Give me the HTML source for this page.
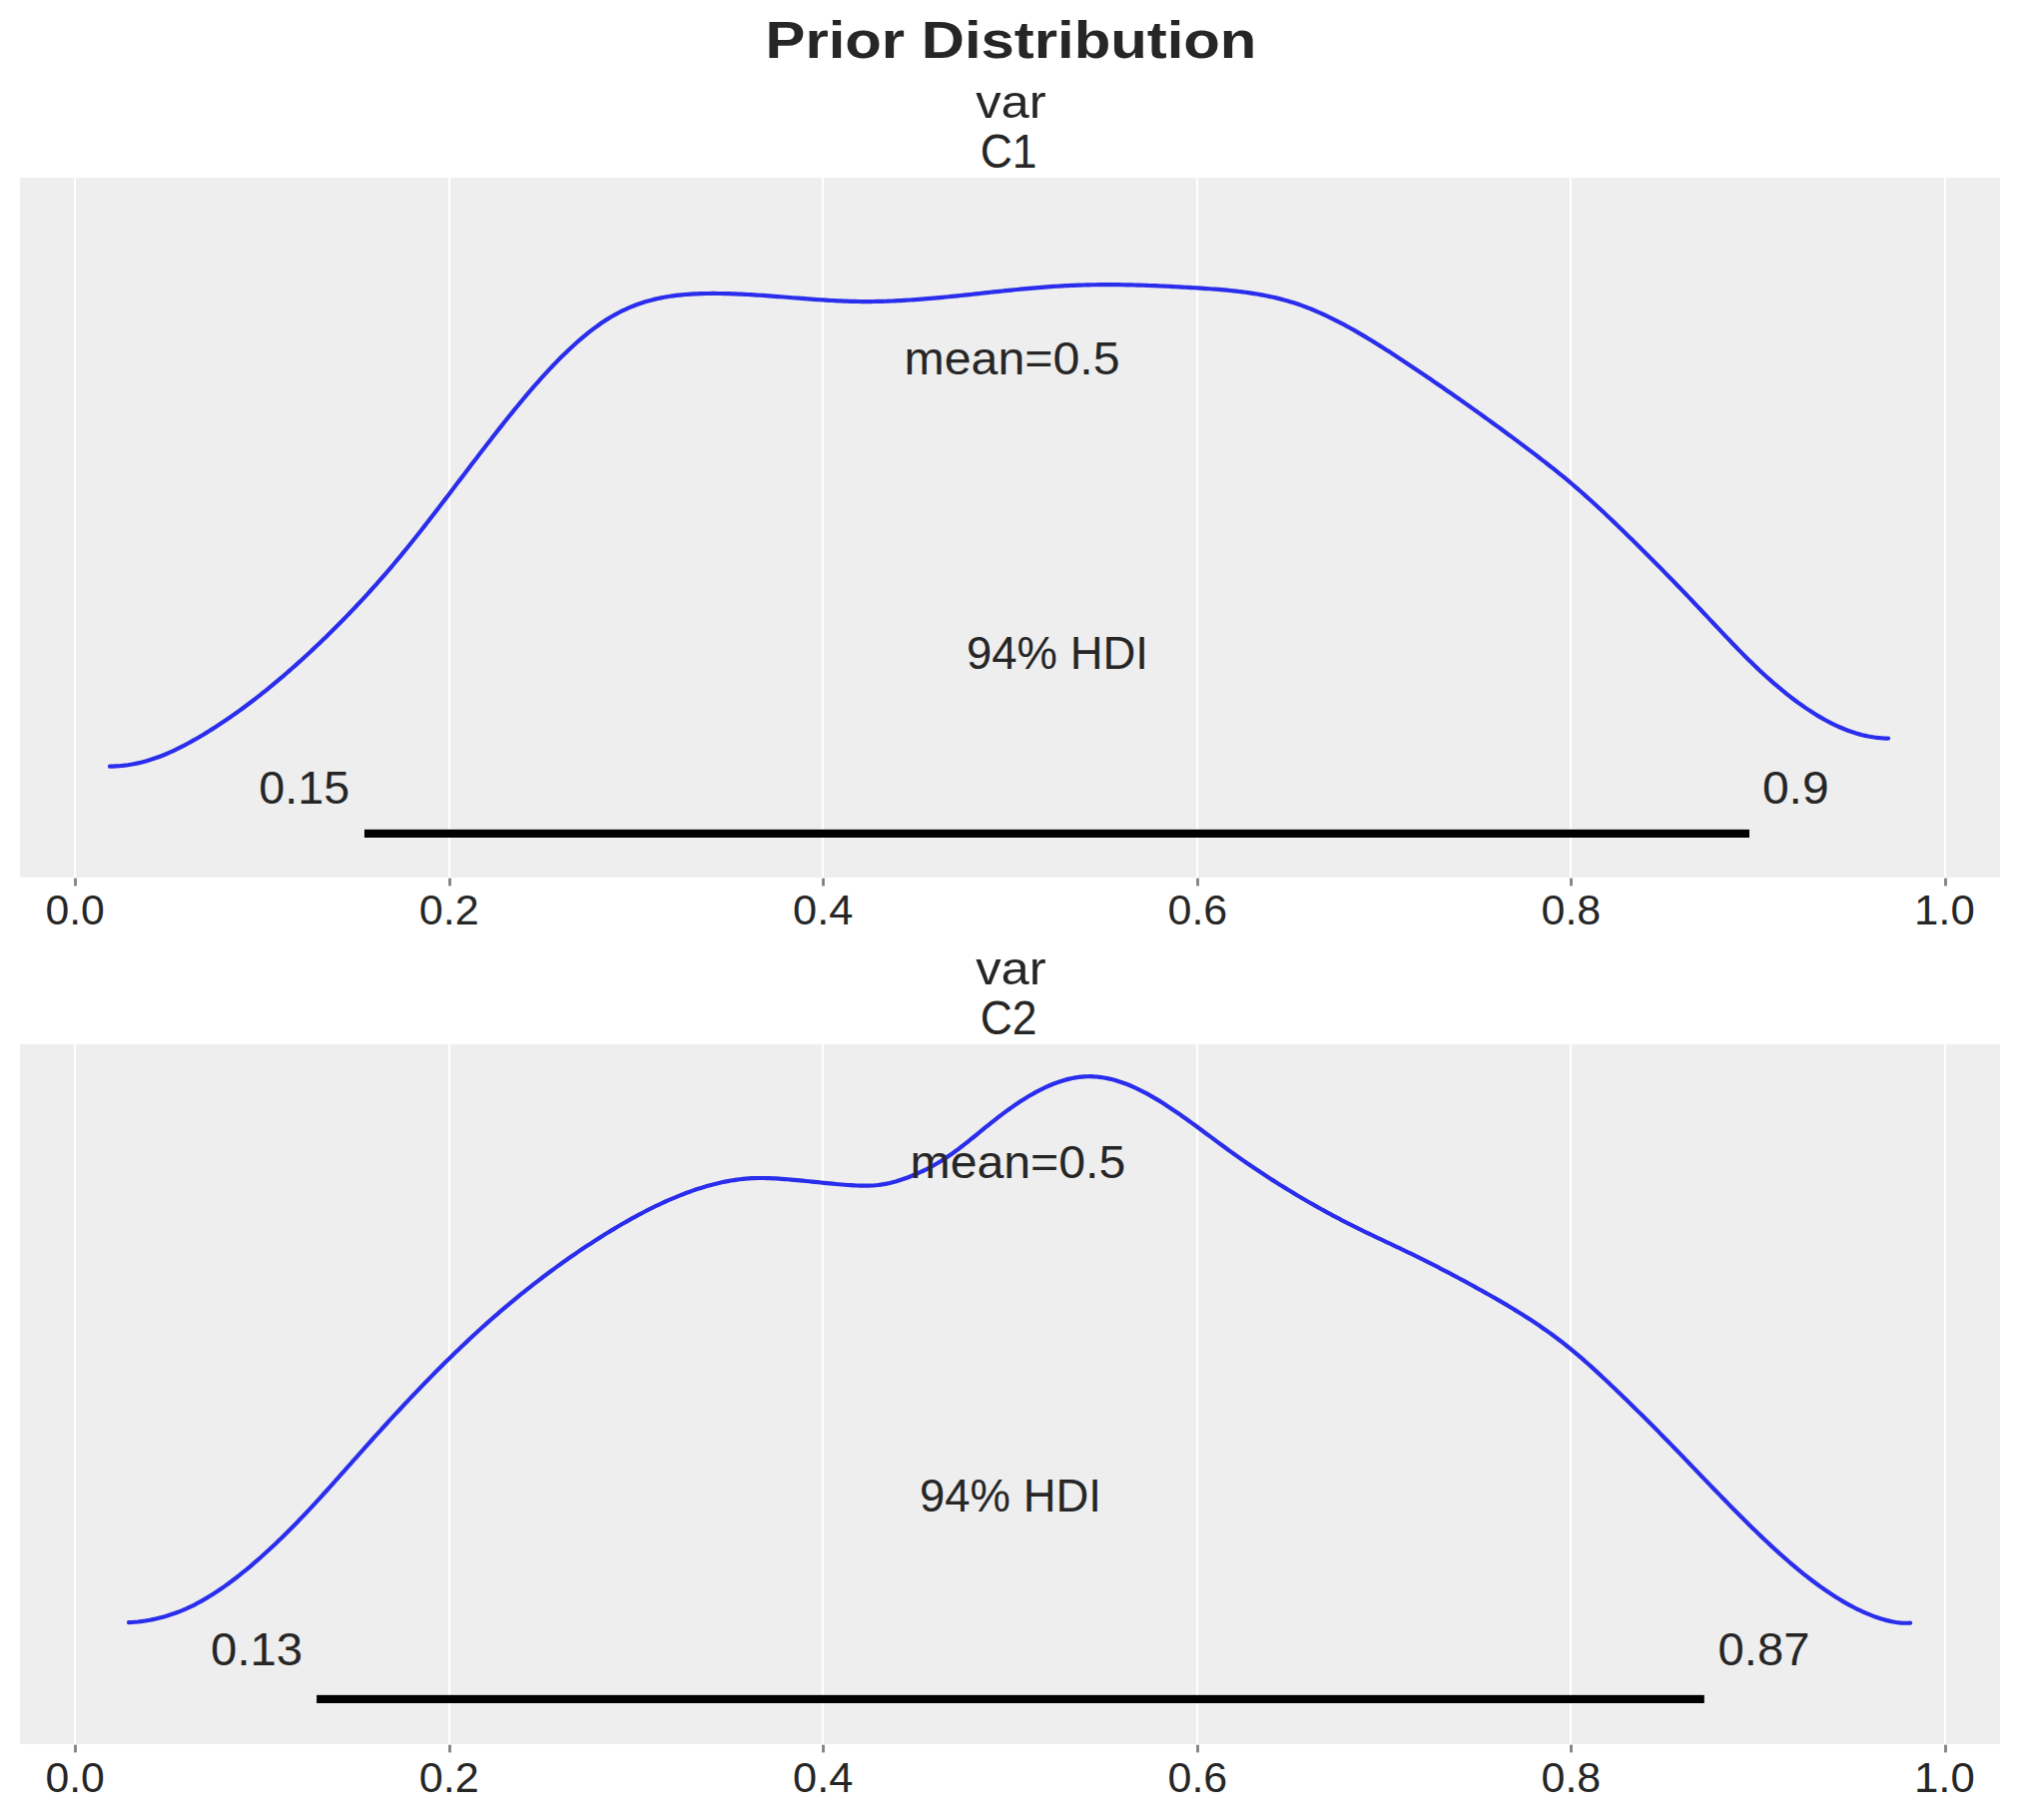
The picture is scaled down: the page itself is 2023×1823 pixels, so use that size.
<!DOCTYPE html>
<html lang="en"><head><meta charset="utf-8"><title>Prior Distribution</title>
<style>html,body{margin:0;padding:0;background:#fff}body{width:2023px;height:1823px;overflow:hidden;font-family:"Liberation Sans",sans-serif}svg{display:block}text{font-family:"Liberation Sans",sans-serif;fill:#262626}</style></head><body>
<svg xmlns="http://www.w3.org/2000/svg" width="2023" height="1823" viewBox="0 0 2023 1823">
<rect width="2023" height="1823" fill="#fff"/>
<rect x="20" y="178" width="1983" height="701" fill="#eeeeee"/>
<rect x="74.00" y="178" width="2.0" height="701" fill="#fff"/>
<rect x="74.10" y="879.7" width="2.8" height="7.7" fill="#808080"/>
<rect x="449.00" y="178" width="2.0" height="701" fill="#fff"/>
<rect x="449.10" y="879.7" width="2.8" height="7.7" fill="#808080"/>
<rect x="823.00" y="178" width="2.0" height="701" fill="#fff"/>
<rect x="823.10" y="879.7" width="2.8" height="7.7" fill="#808080"/>
<rect x="1198.00" y="178" width="2.0" height="701" fill="#fff"/>
<rect x="1198.10" y="879.7" width="2.8" height="7.7" fill="#808080"/>
<rect x="1572.00" y="178" width="2.0" height="701" fill="#fff"/>
<rect x="1572.10" y="879.7" width="2.8" height="7.7" fill="#808080"/>
<rect x="1947.00" y="178" width="2.0" height="701" fill="#fff"/>
<rect x="1947.10" y="879.7" width="2.8" height="7.7" fill="#808080"/>
<rect x="20" y="1046" width="1983" height="701" fill="#eeeeee"/>
<rect x="74.00" y="1046" width="2.0" height="701" fill="#fff"/>
<rect x="74.10" y="1747.7" width="2.8" height="7.7" fill="#808080"/>
<rect x="449.00" y="1046" width="2.0" height="701" fill="#fff"/>
<rect x="449.10" y="1747.7" width="2.8" height="7.7" fill="#808080"/>
<rect x="823.00" y="1046" width="2.0" height="701" fill="#fff"/>
<rect x="823.10" y="1747.7" width="2.8" height="7.7" fill="#808080"/>
<rect x="1198.00" y="1046" width="2.0" height="701" fill="#fff"/>
<rect x="1198.10" y="1747.7" width="2.8" height="7.7" fill="#808080"/>
<rect x="1572.00" y="1046" width="2.0" height="701" fill="#fff"/>
<rect x="1572.10" y="1747.7" width="2.8" height="7.7" fill="#808080"/>
<rect x="1947.00" y="1046" width="2.0" height="701" fill="#fff"/>
<rect x="1947.10" y="1747.7" width="2.8" height="7.7" fill="#808080"/>
<path d="M110.0,767.70 L113.0,767.62 L116.0,767.47 L119.0,767.27 L122.0,766.99 L125.0,766.65 L128.0,766.25 L131.0,765.78 L134.0,765.24 L137.0,764.64 L140.0,763.97 L143.0,763.23 L146.0,762.43 L149.0,761.56 L152.0,760.62 L155.0,759.61 L158.0,758.54 L161.0,757.41 L164.0,756.22 L167.0,754.97 L170.0,753.66 L173.0,752.30 L176.0,750.89 L179.0,749.43 L182.0,747.93 L185.0,746.37 L188.0,744.77 L191.0,743.13 L194.0,741.45 L197.0,739.74 L200.0,737.98 L203.0,736.20 L206.0,734.38 L209.0,732.53 L212.0,730.64 L215.0,728.73 L218.0,726.79 L221.0,724.82 L224.0,722.82 L227.0,720.79 L230.0,718.73 L233.0,716.64 L236.0,714.52 L239.0,712.38 L242.0,710.20 L245.0,708.00 L248.0,705.76 L251.0,703.50 L254.0,701.22 L257.0,698.90 L260.0,696.56 L263.0,694.19 L266.0,691.79 L269.0,689.36 L272.0,686.91 L275.0,684.43 L278.0,681.93 L281.0,679.40 L284.0,676.84 L287.0,674.26 L290.0,671.65 L293.0,669.02 L296.0,666.36 L299.0,663.67 L302.0,660.96 L305.0,658.23 L308.0,655.47 L311.0,652.69 L314.0,649.88 L317.0,647.05 L320.0,644.20 L323.0,641.32 L326.0,638.41 L329.0,635.49 L332.0,632.54 L335.0,629.56 L338.0,626.56 L341.0,623.53 L344.0,620.48 L347.0,617.40 L350.0,614.29 L353.0,611.15 L356.0,607.99 L359.0,604.80 L362.0,601.59 L365.0,598.34 L368.0,595.07 L371.0,591.76 L374.0,588.43 L377.0,585.07 L380.0,581.67 L383.0,578.25 L386.0,574.79 L389.0,571.31 L392.0,567.79 L395.0,564.24 L398.0,560.66 L401.0,557.04 L404.0,553.40 L407.0,549.72 L410.0,546.01 L413.0,542.28 L416.0,538.52 L419.0,534.74 L422.0,530.93 L425.0,527.10 L428.0,523.26 L431.0,519.39 L434.0,515.51 L437.0,511.62 L440.0,507.71 L443.0,503.79 L446.0,499.86 L449.0,495.93 L452.0,491.99 L455.0,488.04 L458.0,484.09 L461.0,480.14 L464.0,476.19 L467.0,472.24 L470.0,468.29 L473.0,464.35 L476.0,460.42 L479.0,456.49 L482.0,452.58 L485.0,448.68 L488.0,444.79 L491.0,440.91 L494.0,437.05 L497.0,433.21 L500.0,429.39 L503.0,425.59 L506.0,421.81 L509.0,418.06 L512.0,414.34 L515.0,410.64 L518.0,406.98 L521.0,403.34 L524.0,399.74 L527.0,396.18 L530.0,392.65 L533.0,389.17 L536.0,385.72 L539.0,382.32 L542.0,378.96 L545.0,375.64 L548.0,372.38 L551.0,369.16 L554.0,366.00 L557.0,362.89 L560.0,359.83 L563.0,356.83 L566.0,353.89 L569.0,351.01 L572.0,348.20 L575.0,345.44 L578.0,342.75 L581.0,340.13 L584.0,337.58 L587.0,335.10 L590.0,332.70 L593.0,330.36 L596.0,328.11 L599.0,325.93 L602.0,323.83 L605.0,321.81 L608.0,319.88 L611.0,318.03 L614.0,316.27 L617.0,314.59 L620.0,313.00 L623.0,311.49 L626.0,310.05 L629.0,308.70 L632.0,307.42 L635.0,306.21 L638.0,305.07 L641.0,304.01 L644.0,303.01 L647.0,302.08 L650.0,301.21 L653.0,300.41 L656.0,299.66 L659.0,298.98 L662.0,298.35 L665.0,297.77 L668.0,297.24 L671.0,296.77 L674.0,296.34 L677.0,295.95 L680.0,295.61 L683.0,295.30 L686.0,295.03 L689.0,294.80 L692.0,294.60 L695.0,294.43 L698.0,294.29 L701.0,294.17 L704.0,294.09 L707.0,294.02 L710.0,293.98 L713.0,293.96 L716.0,293.96 L719.0,293.98 L722.0,294.01 L725.0,294.06 L728.0,294.13 L731.0,294.21 L734.0,294.31 L737.0,294.42 L740.0,294.55 L743.0,294.68 L746.0,294.83 L749.0,294.99 L752.0,295.17 L755.0,295.35 L758.0,295.54 L761.0,295.73 L764.0,295.94 L767.0,296.15 L770.0,296.37 L773.0,296.59 L776.0,296.82 L779.0,297.05 L782.0,297.28 L785.0,297.52 L788.0,297.76 L791.0,297.99 L794.0,298.23 L797.0,298.47 L800.0,298.71 L803.0,298.94 L806.0,299.17 L809.0,299.40 L812.0,299.62 L815.0,299.84 L818.0,300.05 L821.0,300.26 L824.0,300.46 L827.0,300.65 L830.0,300.83 L833.0,301.00 L836.0,301.16 L839.0,301.31 L842.0,301.45 L845.0,301.58 L848.0,301.69 L851.0,301.79 L854.0,301.87 L857.0,301.94 L860.0,302.00 L863.0,302.03 L866.0,302.05 L869.0,302.05 L872.0,302.04 L875.0,302.01 L878.0,301.96 L881.0,301.90 L884.0,301.82 L887.0,301.73 L890.0,301.62 L893.0,301.50 L896.0,301.37 L899.0,301.22 L902.0,301.07 L905.0,300.90 L908.0,300.71 L911.0,300.52 L914.0,300.32 L917.0,300.11 L920.0,299.89 L923.0,299.65 L926.0,299.41 L929.0,299.16 L932.0,298.91 L935.0,298.64 L938.0,298.37 L941.0,298.09 L944.0,297.81 L947.0,297.52 L950.0,297.23 L953.0,296.93 L956.0,296.62 L959.0,296.31 L962.0,296.00 L965.0,295.68 L968.0,295.37 L971.0,295.05 L974.0,294.72 L977.0,294.40 L980.0,294.08 L983.0,293.75 L986.0,293.43 L989.0,293.10 L992.0,292.78 L995.0,292.45 L998.0,292.13 L1001.0,291.81 L1004.0,291.50 L1007.0,291.18 L1010.0,290.87 L1013.0,290.57 L1016.0,290.26 L1019.0,289.97 L1022.0,289.68 L1025.0,289.39 L1028.0,289.11 L1031.0,288.83 L1034.0,288.57 L1037.0,288.31 L1040.0,288.05 L1043.0,287.81 L1046.0,287.57 L1049.0,287.35 L1052.0,287.13 L1055.0,286.92 L1058.0,286.73 L1061.0,286.54 L1064.0,286.36 L1067.0,286.20 L1070.0,286.05 L1073.0,285.91 L1076.0,285.78 L1079.0,285.67 L1082.0,285.57 L1085.0,285.48 L1088.0,285.40 L1091.0,285.33 L1094.0,285.27 L1097.0,285.23 L1100.0,285.19 L1103.0,285.16 L1106.0,285.15 L1109.0,285.14 L1112.0,285.15 L1115.0,285.16 L1118.0,285.18 L1121.0,285.22 L1124.0,285.26 L1127.0,285.30 L1130.0,285.36 L1133.0,285.43 L1136.0,285.50 L1139.0,285.58 L1142.0,285.67 L1145.0,285.76 L1148.0,285.87 L1151.0,285.98 L1154.0,286.09 L1157.0,286.21 L1160.0,286.34 L1163.0,286.48 L1166.0,286.62 L1169.0,286.76 L1172.0,286.91 L1175.0,287.07 L1178.0,287.23 L1181.0,287.39 L1184.0,287.56 L1187.0,287.73 L1190.0,287.91 L1193.0,288.09 L1196.0,288.27 L1199.0,288.46 L1202.0,288.65 L1205.0,288.85 L1208.0,289.05 L1211.0,289.25 L1214.0,289.47 L1217.0,289.69 L1220.0,289.93 L1223.0,290.18 L1226.0,290.44 L1229.0,290.71 L1232.0,291.00 L1235.0,291.31 L1238.0,291.64 L1241.0,291.98 L1244.0,292.35 L1247.0,292.74 L1250.0,293.15 L1253.0,293.59 L1256.0,294.06 L1259.0,294.55 L1262.0,295.07 L1265.0,295.62 L1268.0,296.21 L1271.0,296.82 L1274.0,297.47 L1277.0,298.16 L1280.0,298.88 L1283.0,299.64 L1286.0,300.43 L1289.0,301.27 L1292.0,302.16 L1295.0,303.08 L1298.0,304.05 L1301.0,305.06 L1304.0,306.12 L1307.0,307.23 L1310.0,308.38 L1313.0,309.57 L1316.0,310.80 L1319.0,312.08 L1322.0,313.39 L1325.0,314.75 L1328.0,316.14 L1331.0,317.57 L1334.0,319.03 L1337.0,320.53 L1340.0,322.06 L1343.0,323.62 L1346.0,325.21 L1349.0,326.83 L1352.0,328.49 L1355.0,330.17 L1358.0,331.87 L1361.0,333.61 L1364.0,335.36 L1367.0,337.14 L1370.0,338.95 L1373.0,340.77 L1376.0,342.62 L1379.0,344.48 L1382.0,346.36 L1385.0,348.26 L1388.0,350.17 L1391.0,352.10 L1394.0,354.05 L1397.0,356.00 L1400.0,357.97 L1403.0,359.95 L1406.0,361.93 L1409.0,363.93 L1412.0,365.93 L1415.0,367.94 L1418.0,369.96 L1421.0,371.98 L1424.0,374.00 L1427.0,376.03 L1430.0,378.07 L1433.0,380.11 L1436.0,382.16 L1439.0,384.21 L1442.0,386.28 L1445.0,388.34 L1448.0,390.41 L1451.0,392.49 L1454.0,394.58 L1457.0,396.67 L1460.0,398.77 L1463.0,400.87 L1466.0,402.98 L1469.0,405.10 L1472.0,407.22 L1475.0,409.35 L1478.0,411.48 L1481.0,413.63 L1484.0,415.78 L1487.0,417.93 L1490.0,420.10 L1493.0,422.27 L1496.0,424.44 L1499.0,426.63 L1502.0,428.82 L1505.0,431.02 L1508.0,433.22 L1511.0,435.44 L1514.0,437.66 L1517.0,439.88 L1520.0,442.12 L1523.0,444.36 L1526.0,446.61 L1529.0,448.87 L1532.0,451.14 L1535.0,453.41 L1538.0,455.69 L1541.0,457.99 L1544.0,460.30 L1547.0,462.63 L1550.0,464.97 L1553.0,467.33 L1556.0,469.71 L1559.0,472.11 L1562.0,474.53 L1565.0,476.98 L1568.0,479.45 L1571.0,481.96 L1574.0,484.49 L1577.0,487.05 L1580.0,489.64 L1583.0,492.25 L1586.0,494.90 L1589.0,497.57 L1592.0,500.27 L1595.0,502.98 L1598.0,505.73 L1601.0,508.49 L1604.0,511.28 L1607.0,514.09 L1610.0,516.91 L1613.0,519.76 L1616.0,522.62 L1619.0,525.49 L1622.0,528.39 L1625.0,531.30 L1628.0,534.22 L1631.0,537.15 L1634.0,540.10 L1637.0,543.05 L1640.0,546.02 L1643.0,548.99 L1646.0,551.97 L1649.0,554.96 L1652.0,557.97 L1655.0,560.98 L1658.0,564.00 L1661.0,567.03 L1664.0,570.06 L1667.0,573.11 L1670.0,576.17 L1673.0,579.24 L1676.0,582.33 L1679.0,585.42 L1682.0,588.52 L1685.0,591.63 L1688.0,594.76 L1691.0,597.90 L1694.0,601.04 L1697.0,604.20 L1700.0,607.37 L1703.0,610.55 L1706.0,613.73 L1709.0,616.92 L1712.0,620.11 L1715.0,623.30 L1718.0,626.48 L1721.0,629.66 L1724.0,632.84 L1727.0,636.01 L1730.0,639.16 L1733.0,642.30 L1736.0,645.42 L1739.0,648.52 L1742.0,651.60 L1745.0,654.65 L1748.0,657.67 L1751.0,660.66 L1754.0,663.61 L1757.0,666.52 L1760.0,669.39 L1763.0,672.22 L1766.0,675.00 L1769.0,677.74 L1772.0,680.43 L1775.0,683.07 L1778.0,685.67 L1781.0,688.22 L1784.0,690.71 L1787.0,693.16 L1790.0,695.56 L1793.0,697.91 L1796.0,700.21 L1799.0,702.45 L1802.0,704.64 L1805.0,706.78 L1808.0,708.86 L1811.0,710.88 L1814.0,712.85 L1817.0,714.75 L1820.0,716.60 L1823.0,718.38 L1826.0,720.10 L1829.0,721.75 L1832.0,723.34 L1835.0,724.87 L1838.0,726.32 L1841.0,727.71 L1844.0,729.02 L1847.0,730.27 L1850.0,731.44 L1853.0,732.54 L1856.0,733.56 L1859.0,734.51 L1862.0,735.38 L1865.0,736.17 L1868.0,736.88 L1871.0,737.51 L1874.0,738.05 L1877.0,738.52 L1880.0,738.90 L1883.0,739.20 L1886.0,739.41 L1889.0,739.53 L1891.1,739.56" fill="none" stroke="#2a2eec" stroke-width="4.2" stroke-linecap="round" stroke-linejoin="round"/>
<path d="M129.0,1625.14 L132.0,1624.98 L135.0,1624.75 L138.0,1624.47 L141.0,1624.12 L144.0,1623.72 L147.0,1623.26 L150.0,1622.74 L153.0,1622.15 L156.0,1621.51 L159.0,1620.81 L162.0,1620.04 L165.0,1619.21 L168.0,1618.32 L171.0,1617.37 L174.0,1616.35 L177.0,1615.26 L180.0,1614.10 L183.0,1612.88 L186.0,1611.58 L189.0,1610.21 L192.0,1608.78 L195.0,1607.28 L198.0,1605.71 L201.0,1604.08 L204.0,1602.38 L207.0,1600.63 L210.0,1598.81 L213.0,1596.94 L216.0,1595.01 L219.0,1593.02 L222.0,1590.98 L225.0,1588.88 L228.0,1586.73 L231.0,1584.52 L234.0,1582.27 L237.0,1579.97 L240.0,1577.62 L243.0,1575.23 L246.0,1572.79 L249.0,1570.30 L252.0,1567.77 L255.0,1565.21 L258.0,1562.60 L261.0,1559.95 L264.0,1557.26 L267.0,1554.54 L270.0,1551.79 L273.0,1548.99 L276.0,1546.17 L279.0,1543.31 L282.0,1540.41 L285.0,1537.48 L288.0,1534.52 L291.0,1531.51 L294.0,1528.48 L297.0,1525.41 L300.0,1522.30 L303.0,1519.17 L306.0,1516.01 L309.0,1512.82 L312.0,1509.60 L315.0,1506.37 L318.0,1503.11 L321.0,1499.83 L324.0,1496.53 L327.0,1493.22 L330.0,1489.89 L333.0,1486.55 L336.0,1483.20 L339.0,1479.84 L342.0,1476.47 L345.0,1473.10 L348.0,1469.72 L351.0,1466.34 L354.0,1462.96 L357.0,1459.58 L360.0,1456.21 L363.0,1452.84 L366.0,1449.47 L369.0,1446.12 L372.0,1442.77 L375.0,1439.44 L378.0,1436.11 L381.0,1432.80 L384.0,1429.50 L387.0,1426.22 L390.0,1422.94 L393.0,1419.68 L396.0,1416.43 L399.0,1413.20 L402.0,1409.98 L405.0,1406.77 L408.0,1403.58 L411.0,1400.40 L414.0,1397.24 L417.0,1394.10 L420.0,1390.97 L423.0,1387.85 L426.0,1384.76 L429.0,1381.68 L432.0,1378.62 L435.0,1375.57 L438.0,1372.54 L441.0,1369.54 L444.0,1366.55 L447.0,1363.58 L450.0,1360.63 L453.0,1357.70 L456.0,1354.79 L459.0,1351.90 L462.0,1349.03 L465.0,1346.18 L468.0,1343.35 L471.0,1340.55 L474.0,1337.76 L477.0,1335.00 L480.0,1332.26 L483.0,1329.55 L486.0,1326.85 L489.0,1324.18 L492.0,1321.53 L495.0,1318.90 L498.0,1316.30 L501.0,1313.71 L504.0,1311.15 L507.0,1308.61 L510.0,1306.09 L513.0,1303.59 L516.0,1301.11 L519.0,1298.66 L522.0,1296.22 L525.0,1293.81 L528.0,1291.42 L531.0,1289.05 L534.0,1286.70 L537.0,1284.37 L540.0,1282.06 L543.0,1279.77 L546.0,1277.50 L549.0,1275.25 L552.0,1273.03 L555.0,1270.82 L558.0,1268.63 L561.0,1266.47 L564.0,1264.32 L567.0,1262.20 L570.0,1260.09 L573.0,1258.00 L576.0,1255.94 L579.0,1253.89 L582.0,1251.86 L585.0,1249.86 L588.0,1247.87 L591.0,1245.90 L594.0,1243.95 L597.0,1242.02 L600.0,1240.11 L603.0,1238.22 L606.0,1236.34 L609.0,1234.49 L612.0,1232.66 L615.0,1230.85 L618.0,1229.06 L621.0,1227.29 L624.0,1225.54 L627.0,1223.82 L630.0,1222.12 L633.0,1220.44 L636.0,1218.79 L639.0,1217.16 L642.0,1215.56 L645.0,1213.99 L648.0,1212.44 L651.0,1210.92 L654.0,1209.43 L657.0,1207.97 L660.0,1206.54 L663.0,1205.14 L666.0,1203.76 L669.0,1202.42 L672.0,1201.11 L675.0,1199.84 L678.0,1198.59 L681.0,1197.38 L684.0,1196.21 L687.0,1195.06 L690.0,1193.96 L693.0,1192.89 L696.0,1191.85 L699.0,1190.85 L702.0,1189.89 L705.0,1188.97 L708.0,1188.09 L711.0,1187.24 L714.0,1186.44 L717.0,1185.68 L720.0,1184.96 L723.0,1184.29 L726.0,1183.66 L729.0,1183.08 L732.0,1182.54 L735.0,1182.06 L738.0,1181.62 L741.0,1181.23 L744.0,1180.89 L747.0,1180.61 L750.0,1180.38 L753.0,1180.21 L756.0,1180.08 L759.0,1180.01 L762.0,1179.98 L765.0,1180.00 L768.0,1180.06 L771.0,1180.15 L774.0,1180.28 L777.0,1180.43 L780.0,1180.61 L783.0,1180.82 L786.0,1181.04 L789.0,1181.28 L792.0,1181.54 L795.0,1181.80 L798.0,1182.08 L801.0,1182.37 L804.0,1182.67 L807.0,1182.97 L810.0,1183.27 L813.0,1183.58 L816.0,1183.90 L819.0,1184.21 L822.0,1184.52 L825.0,1184.82 L828.0,1185.13 L831.0,1185.42 L834.0,1185.71 L837.0,1185.99 L840.0,1186.26 L843.0,1186.52 L846.0,1186.76 L849.0,1186.99 L852.0,1187.20 L855.0,1187.38 L858.0,1187.52 L861.0,1187.62 L864.0,1187.67 L867.0,1187.67 L870.0,1187.61 L873.0,1187.48 L876.0,1187.28 L879.0,1187.00 L882.0,1186.63 L885.0,1186.16 L888.0,1185.61 L891.0,1184.97 L894.0,1184.24 L897.0,1183.44 L900.0,1182.55 L903.0,1181.59 L906.0,1180.55 L909.0,1179.45 L912.0,1178.28 L915.0,1177.05 L918.0,1175.76 L921.0,1174.42 L924.0,1173.01 L927.0,1171.54 L930.0,1170.01 L933.0,1168.41 L936.0,1166.75 L939.0,1165.01 L942.0,1163.21 L945.0,1161.33 L948.0,1159.38 L951.0,1157.35 L954.0,1155.24 L957.0,1153.06 L960.0,1150.83 L963.0,1148.54 L966.0,1146.20 L969.0,1143.83 L972.0,1141.43 L975.0,1139.00 L978.0,1136.56 L981.0,1134.11 L984.0,1131.66 L987.0,1129.22 L990.0,1126.80 L993.0,1124.40 L996.0,1122.03 L999.0,1119.69 L1002.0,1117.39 L1005.0,1115.14 L1008.0,1112.92 L1011.0,1110.75 L1014.0,1108.63 L1017.0,1106.56 L1020.0,1104.54 L1023.0,1102.57 L1026.0,1100.67 L1029.0,1098.82 L1032.0,1097.03 L1035.0,1095.31 L1038.0,1093.66 L1041.0,1092.08 L1044.0,1090.56 L1047.0,1089.13 L1050.0,1087.77 L1053.0,1086.49 L1056.0,1085.29 L1059.0,1084.18 L1062.0,1083.15 L1065.0,1082.21 L1068.0,1081.37 L1071.0,1080.62 L1074.0,1079.97 L1077.0,1079.41 L1080.0,1078.96 L1083.0,1078.61 L1086.0,1078.37 L1089.0,1078.24 L1092.0,1078.22 L1095.0,1078.31 L1098.0,1078.51 L1101.0,1078.81 L1104.0,1079.22 L1107.0,1079.72 L1110.0,1080.33 L1113.0,1081.02 L1116.0,1081.81 L1119.0,1082.69 L1122.0,1083.65 L1125.0,1084.69 L1128.0,1085.82 L1131.0,1087.02 L1134.0,1088.29 L1137.0,1089.64 L1140.0,1091.06 L1143.0,1092.54 L1146.0,1094.08 L1149.0,1095.69 L1152.0,1097.35 L1155.0,1099.07 L1158.0,1100.84 L1161.0,1102.66 L1164.0,1104.53 L1167.0,1106.44 L1170.0,1108.39 L1173.0,1110.38 L1176.0,1112.40 L1179.0,1114.46 L1182.0,1116.54 L1185.0,1118.66 L1188.0,1120.79 L1191.0,1122.95 L1194.0,1125.13 L1197.0,1127.32 L1200.0,1129.53 L1203.0,1131.75 L1206.0,1133.97 L1209.0,1136.20 L1212.0,1138.43 L1215.0,1140.66 L1218.0,1142.89 L1221.0,1145.10 L1224.0,1147.31 L1227.0,1149.51 L1230.0,1151.69 L1233.0,1153.86 L1236.0,1156.01 L1239.0,1158.14 L1242.0,1160.25 L1245.0,1162.35 L1248.0,1164.43 L1251.0,1166.49 L1254.0,1168.53 L1257.0,1170.56 L1260.0,1172.57 L1263.0,1174.56 L1266.0,1176.54 L1269.0,1178.49 L1272.0,1180.44 L1275.0,1182.36 L1278.0,1184.27 L1281.0,1186.17 L1284.0,1188.04 L1287.0,1189.90 L1290.0,1191.75 L1293.0,1193.58 L1296.0,1195.39 L1299.0,1197.19 L1302.0,1198.97 L1305.0,1200.73 L1308.0,1202.48 L1311.0,1204.22 L1314.0,1205.93 L1317.0,1207.64 L1320.0,1209.32 L1323.0,1211.00 L1326.0,1212.65 L1329.0,1214.30 L1332.0,1215.92 L1335.0,1217.54 L1338.0,1219.13 L1341.0,1220.72 L1344.0,1222.28 L1347.0,1223.84 L1350.0,1225.38 L1353.0,1226.90 L1356.0,1228.41 L1359.0,1229.91 L1362.0,1231.39 L1365.0,1232.86 L1368.0,1234.32 L1371.0,1235.76 L1374.0,1237.20 L1377.0,1238.63 L1380.0,1240.05 L1383.0,1241.47 L1386.0,1242.89 L1389.0,1244.30 L1392.0,1245.72 L1395.0,1247.13 L1398.0,1248.55 L1401.0,1249.97 L1404.0,1251.40 L1407.0,1252.83 L1410.0,1254.27 L1413.0,1255.73 L1416.0,1257.19 L1419.0,1258.66 L1422.0,1260.14 L1425.0,1261.62 L1428.0,1263.12 L1431.0,1264.63 L1434.0,1266.15 L1437.0,1267.68 L1440.0,1269.21 L1443.0,1270.76 L1446.0,1272.31 L1449.0,1273.88 L1452.0,1275.45 L1455.0,1277.04 L1458.0,1278.63 L1461.0,1280.23 L1464.0,1281.84 L1467.0,1283.46 L1470.0,1285.09 L1473.0,1286.73 L1476.0,1288.38 L1479.0,1290.04 L1482.0,1291.71 L1485.0,1293.38 L1488.0,1295.07 L1491.0,1296.76 L1494.0,1298.47 L1497.0,1300.18 L1500.0,1301.91 L1503.0,1303.65 L1506.0,1305.40 L1509.0,1307.18 L1512.0,1308.96 L1515.0,1310.77 L1518.0,1312.60 L1521.0,1314.45 L1524.0,1316.32 L1527.0,1318.22 L1530.0,1320.14 L1533.0,1322.08 L1536.0,1324.06 L1539.0,1326.06 L1542.0,1328.10 L1545.0,1330.16 L1548.0,1332.26 L1551.0,1334.39 L1554.0,1336.56 L1557.0,1338.77 L1560.0,1341.01 L1563.0,1343.29 L1566.0,1345.62 L1569.0,1347.98 L1572.0,1350.39 L1575.0,1352.85 L1578.0,1355.34 L1581.0,1357.88 L1584.0,1360.46 L1587.0,1363.07 L1590.0,1365.72 L1593.0,1368.41 L1596.0,1371.12 L1599.0,1373.86 L1602.0,1376.63 L1605.0,1379.42 L1608.0,1382.23 L1611.0,1385.07 L1614.0,1387.92 L1617.0,1390.78 L1620.0,1393.66 L1623.0,1396.55 L1626.0,1399.45 L1629.0,1402.36 L1632.0,1405.28 L1635.0,1408.22 L1638.0,1411.16 L1641.0,1414.12 L1644.0,1417.08 L1647.0,1420.06 L1650.0,1423.05 L1653.0,1426.05 L1656.0,1429.06 L1659.0,1432.09 L1662.0,1435.12 L1665.0,1438.17 L1668.0,1441.22 L1671.0,1444.29 L1674.0,1447.37 L1677.0,1450.46 L1680.0,1453.55 L1683.0,1456.66 L1686.0,1459.77 L1689.0,1462.88 L1692.0,1466.00 L1695.0,1469.12 L1698.0,1472.24 L1701.0,1475.37 L1704.0,1478.49 L1707.0,1481.61 L1710.0,1484.73 L1713.0,1487.84 L1716.0,1490.95 L1719.0,1494.06 L1722.0,1497.15 L1725.0,1500.24 L1728.0,1503.32 L1731.0,1506.39 L1734.0,1509.45 L1737.0,1512.49 L1740.0,1515.52 L1743.0,1518.54 L1746.0,1521.54 L1749.0,1524.52 L1752.0,1527.48 L1755.0,1530.42 L1758.0,1533.35 L1761.0,1536.25 L1764.0,1539.12 L1767.0,1541.97 L1770.0,1544.80 L1773.0,1547.60 L1776.0,1550.37 L1779.0,1553.11 L1782.0,1555.82 L1785.0,1558.50 L1788.0,1561.15 L1791.0,1563.76 L1794.0,1566.34 L1797.0,1568.88 L1800.0,1571.38 L1803.0,1573.84 L1806.0,1576.27 L1809.0,1578.65 L1812.0,1580.99 L1815.0,1583.29 L1818.0,1585.55 L1821.0,1587.75 L1824.0,1589.91 L1827.0,1592.03 L1830.0,1594.09 L1833.0,1596.10 L1836.0,1598.07 L1839.0,1599.97 L1842.0,1601.83 L1845.0,1603.63 L1848.0,1605.37 L1851.0,1607.06 L1854.0,1608.68 L1857.0,1610.25 L1860.0,1611.76 L1863.0,1613.20 L1866.0,1614.58 L1869.0,1615.90 L1872.0,1617.15 L1875.0,1618.33 L1878.0,1619.45 L1881.0,1620.49 L1884.0,1621.46 L1887.0,1622.35 L1890.0,1623.15 L1893.0,1623.86 L1896.0,1624.46 L1899.0,1624.96 L1902.0,1625.34 L1905.0,1625.61 L1908.0,1625.75 L1911.0,1625.75 L1913.1,1625.68" fill="none" stroke="#2a2eec" stroke-width="4.2" stroke-linecap="round" stroke-linejoin="round"/>
<rect x="364.95" y="830.85" width="1387.05" height="8.15" fill="#000"/>
<rect x="317.1" y="1697.85" width="1389.7" height="8.15" fill="#000"/>
<text transform="matrix(1.1454 0 0 1 766.51 57.98)" font-size="52.24" font-weight="bold">Prior Distribution</text>
<text transform="matrix(1.0773 0 0 1 977.25 118.43)" font-size="47.09">var</text>
<text transform="matrix(0.9077 0 0 1 981.68 168.21)" font-size="49.01">C1</text>
<text transform="matrix(1.0773 0 0 1 977.25 986.43)" font-size="47.09">var</text>
<text transform="matrix(0.9077 0 0 1 981.68 1036.21)" font-size="49.01">C2</text>
<text transform="matrix(1.0452 0 0 1 905.46 375.44)" font-size="46.20">mean=0.5</text>
<text transform="matrix(0.9870 0 0 1 968.05 670.34)" font-size="46.06">94% HDI</text>
<text transform="matrix(1.0222 0 0 1 259.33 805.34)" font-size="45.63">0.15</text>
<text transform="matrix(1.0535 0 0 1 1764.88 805.34)" font-size="45.63">0.9</text>
<text transform="matrix(1.0442 0 0 1 911.46 1180.44)" font-size="46.20">mean=0.5</text>
<text transform="matrix(0.9870 0 0 1 921.05 1514.34)" font-size="46.06">94% HDI</text>
<text transform="matrix(1.0368 0 0 1 211.11 1668.34)" font-size="45.63">0.13</text>
<text transform="matrix(1.0337 0 0 1 1720.61 1668.34)" font-size="45.63">0.87</text>
<text transform="matrix(1.0050 0 0 1 45.39 926.17)" font-size="42.54">0.0</text>
<text transform="matrix(1.0050 0 0 1 45.39 1795.17)" font-size="42.54">0.0</text>
<text transform="matrix(1.0145 0 0 1 419.72 926.17)" font-size="42.54">0.2</text>
<text transform="matrix(1.0145 0 0 1 419.72 1795.17)" font-size="42.54">0.2</text>
<text transform="matrix(1.0188 0 0 1 794.07 926.17)" font-size="42.54">0.4</text>
<text transform="matrix(1.0188 0 0 1 794.07 1795.17)" font-size="42.54">0.4</text>
<text transform="matrix(1.0089 0 0 1 1169.58 926.17)" font-size="42.54">0.6</text>
<text transform="matrix(1.0089 0 0 1 1169.58 1795.17)" font-size="42.54">0.6</text>
<text transform="matrix(1.0089 0 0 1 1543.58 926.17)" font-size="42.54">0.8</text>
<text transform="matrix(1.0089 0 0 1 1543.58 1795.17)" font-size="42.54">0.8</text>
<text transform="matrix(1.0289 0 0 1 1917.02 926.17)" font-size="42.54">1.0</text>
<text transform="matrix(1.0289 0 0 1 1917.02 1795.17)" font-size="42.54">1.0</text>
</svg></body></html>
